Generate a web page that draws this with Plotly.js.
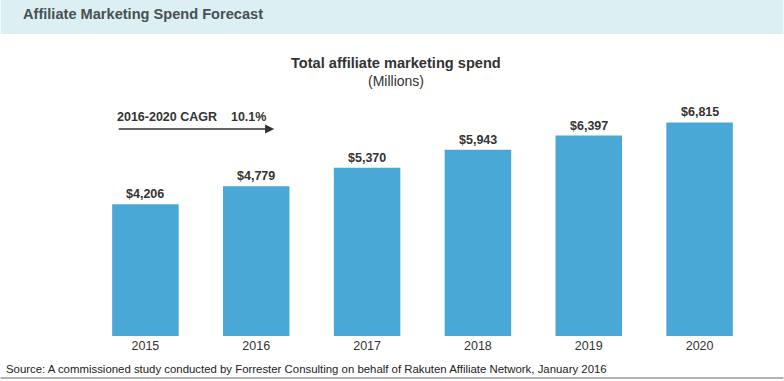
<!DOCTYPE html>
<html>
<head>
<meta charset="utf-8">
<script src="https://cdn.plot.ly/plotly-3.0.1.min.js"></script>
<style>html,body{margin:0;padding:0;background:#fff;}#chart{width:784px;height:381px;}</style>
</head>
<body>
<div id="chart"></div>
<script>
const years = ['2015', '2016', '2017', '2018', '2019', '2020'];
const spend = [4206, 4779, 5370, 5943, 6397, 6815];
const valueLabels = ['$4,206', '$4,779', '$5,370', '$5,943', '$6,397', '$6,815'];
const headerTitle = 'Affiliate Marketing Spend Forecast';
const chartTitle = 'Total affiliate marketing spend';
const chartSubtitle = '(Millions)';
const cagrLabel = '2016-2020 CAGR&nbsp;&nbsp;&nbsp;&nbsp;10.1%';
const sourceText = 'Source: A commissioned study conducted by Forrester Consulting on behalf of Rakuten Affiliate Network, January 2016';

const W = 784, H = 381;
const mL = 89.5, mR = 28.5, mT = 101, mB = 45;
const pw = W - mL - mR, ph = H - mT - mB;
const px = p => (p - mL) / pw;
const py = p => (H - mB - p) / ph;

const font = 'Arial, "Liberation Sans", sans-serif';

const trace = {
  type: 'bar',
  x: years,
  y: spend,
  width: 0.6,
  marker: {color: '#4aa8d6'},
  hoverinfo: 'skip'
};

const annotations = years.map((yr, i) => ({
  x: i, y: spend[i], xref: 'x', yref: 'y',
  text: '<b>' + valueLabels[i] + '</b>',
  showarrow: false, yanchor: 'bottom', yshift: 1,
  font: {family: font, size: 12.5, color: '#333333'}
}));

annotations.push(
  {xref: 'paper', yref: 'paper', x: px(20), y: py(14), xanchor: 'left', yanchor: 'middle',
   text: '<b>' + headerTitle + '</b>', showarrow: false,
   font: {family: font, size: 14.6, color: '#4a4f52'}},
  {xref: 'paper', yref: 'paper', x: px(395.5), y: py(63), xanchor: 'center', yanchor: 'middle',
   text: '<b>' + chartTitle + '</b>', showarrow: false,
   font: {family: font, size: 14.6, color: '#333333'}},
  {xref: 'paper', yref: 'paper', x: px(395.5), y: py(81), xanchor: 'center', yanchor: 'middle',
   text: chartSubtitle, showarrow: false,
   font: {family: font, size: 14, color: '#333333'}},
  {xref: 'paper', yref: 'paper', x: px(115), y: py(117), xanchor: 'left', yanchor: 'middle',
   text: '<b>' + cagrLabel + '</b>', showarrow: false,
   font: {family: font, size: 12.5, color: '#333333'}},
  {xref: 'paper', yref: 'paper', x: px(274), y: py(129), ax: -157, ay: 0,
   text: '', showarrow: true, arrowhead: 2, arrowsize: 1.4, arrowwidth: 1.3, arrowcolor: '#333333'},
  {xref: 'paper', yref: 'paper', x: px(3), y: py(369), xanchor: 'left', yanchor: 'middle',
   text: sourceText, showarrow: false,
   font: {family: font, size: 11.4, color: '#222222'}}
);

const shapes = [
  {type: 'rect', xref: 'paper', yref: 'paper', x0: px(0), x1: px(W), y0: py(0), y1: py(34),
   fillcolor: '#dcf0f3', line: {width: 0}, layer: 'below'},
  {type: 'line', xref: 'paper', yref: 'paper', x0: px(0), x1: px(W), y0: py(378), y1: py(378),
   line: {color: '#9a9a9a', width: 1.5}}
];

const layout = {
  width: W, height: H,
  margin: {l: mL, r: mR, t: mT, b: mB, pad: 0},
  paper_bgcolor: '#ffffff', plot_bgcolor: '#ffffff',
  showlegend: false,
  bargap: 0.4,
  xaxis: {type: 'category', range: [-0.5, 5.5], showgrid: false, zeroline: false, showline: false,
          ticks: '', tickfont: {family: font, size: 12.5, color: '#333333'}, fixedrange: true},
  yaxis: {range: [0, 7500], visible: false, fixedrange: true},
  annotations: annotations,
  shapes: shapes
};

Plotly.newPlot('chart', [trace], layout, {displayModeBar: false, staticPlot: true});
</script>
</body>
</html>
